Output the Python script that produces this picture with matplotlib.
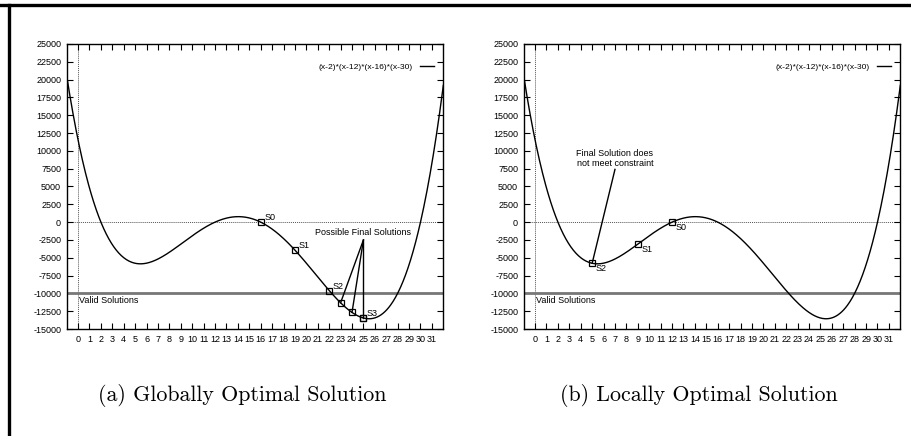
import numpy as np
import matplotlib
matplotlib.use("Agg")
import matplotlib.pyplot as plt
from matplotlib.lines import Line2D

# Function plotted in both panels (roots of the quartic, as named in the legend)
ROOTS = [2, 12, 16, 30]
LEGEND_LABEL = "(x-2)*(x-12)*(x-16)*(x-30)"
CONSTRAINT = -10000

# Panel (a): search steps and possible final solutions
A_STEP_X = [16, 19, 22, 25]
A_STEP_Y = [0, -3927, -9600, -13455]
A_STEP_LABELS = ["S0", "S1", "S2", "S3"]
A_FINAL_X = [23, 24, 25]
A_FINAL_Y = [-11319, -12672, -13455]
A_NOTE_XY = (25, -2500)
A_NOTE_TEXT = "Possible Final Solutions"

# Panel (b): search steps ending in a local optimum
B_STEP_X = [12, 9, 5]
B_STEP_Y = [0, -3087, -5775]
B_STEP_LABELS = ["S0", "S1", "S2"]
B_NOTE_XY = (7, 7400)
B_NOTE_TEXT = "Final Solution does\nnot meet constraint"

CAPTIONS = ["(a) Globally Optimal Solution", "(b) Locally Optimal Solution"]

X_TICKS = list(range(0, 32))
Y_TICKS = list(range(-15000, 25001, 2500))

SANS = ["Liberation Sans", "DejaVu Sans"]
plt.rcParams["font.family"] = SANS
plt.rcParams["axes.unicode_minus"] = False


def base_axes(fig, rect):
    ax = fig.add_axes(rect)
    xs = np.linspace(-1, 32, 600)
    ys = np.prod([xs - r for r in ROOTS], axis=0)
    ax.plot(xs, ys, color="black", linewidth=1.0, label=LEGEND_LABEL, zorder=3)
    ax.axhline(0, color="#555555", linestyle=(0, (1, 1)), linewidth=0.7, zorder=1)
    ax.axvline(0, color="#555555", linestyle=(0, (1, 1)), linewidth=0.7, zorder=1)
    ax.axhline(CONSTRAINT, color="#777777", linewidth=2.0, zorder=2)
    ax.text(0.1, CONSTRAINT - 350, "Valid Solutions", fontsize=6.5, va="top", ha="left")
    ax.set_xlim(-1, 32)
    ax.set_ylim(-15000, 25000)
    ax.set_xticks(X_TICKS)
    ax.set_yticks(Y_TICKS)
    ax.tick_params(direction="in", length=4, width=0.8, labelsize=6.5,
                   top=True, right=True, pad=4)
    for s in ax.spines.values():
        s.set_linewidth(1.0)
    ax.legend(loc="center right", bbox_to_anchor=(0.975, 0.92), frameon=False,
              markerfirst=False, fontsize=6.1, handlelength=1.6, handletextpad=0.9,
              borderpad=0, borderaxespad=0)
    return ax


fig = plt.figure(figsize=(9.12, 4.36), dpi=100)

# panel (a)
ax1 = base_axes(fig, [0.0731, 0.2454, 0.413, 0.6537])
for x, y in zip(A_FINAL_X, A_FINAL_Y):
    ax1.plot([A_NOTE_XY[0], x], [A_NOTE_XY[1], y], color="black", linewidth=1.0, zorder=4)
ax1.plot(A_STEP_X, A_STEP_Y, linestyle="none", marker="s", markersize=4.5,
         markerfacecolor="none", markeredgecolor="black", markeredgewidth=0.9, zorder=5)
ax1.plot(A_FINAL_X, A_FINAL_Y, linestyle="none", marker="s", markersize=4.5,
         markerfacecolor="none", markeredgecolor="black", markeredgewidth=0.9, zorder=5)
for x, y, lab in zip(A_STEP_X, A_STEP_Y, A_STEP_LABELS):
    ax1.annotate(lab, (x, y), xytext=(2.5, 3), textcoords="offset points",
                 fontsize=6.5, ha="left", va="center")
ax1.text(A_NOTE_XY[0], A_NOTE_XY[1] + 1000, A_NOTE_TEXT, fontsize=6.5,
         ha="center", va="center")

# panel (b)
ax2 = base_axes(fig, [0.5742, 0.2454, 0.413, 0.6537])
ax2.plot([B_NOTE_XY[0], B_STEP_X[-1]], [B_NOTE_XY[1], B_STEP_Y[-1]],
         color="black", linewidth=1.0, zorder=4)
ax2.plot(B_STEP_X, B_STEP_Y, linestyle="none", marker="s", markersize=4.5,
         markerfacecolor="none", markeredgecolor="black", markeredgewidth=0.9, zorder=5)
for x, y, lab in zip(B_STEP_X, B_STEP_Y, B_STEP_LABELS):
    ax2.annotate(lab, (x, y), xytext=(2.5, -4), textcoords="offset points",
                 fontsize=6.5, ha="left", va="center")
ax2.text(B_NOTE_XY[0], B_NOTE_XY[1] + 1500, B_NOTE_TEXT, fontsize=6.5,
         ha="center", va="center", linespacing=1.1)

# captions
fig.text(0.266, 0.094, CAPTIONS[0], fontsize=15.8, family="cmr10", ha="center", va="center")
fig.text(0.766, 0.094, CAPTIONS[1], fontsize=15.8, family="cmr10", ha="center", va="center")

# page frame (top and left edges)
fig.add_artist(Line2D([0, 1], [1 - 5.5 / 436, 1 - 5.5 / 436], color="black", linewidth=2.4,
                      transform=fig.transFigure))
fig.add_artist(Line2D([9.5 / 912, 9.5 / 912], [0, 1 - 5.5 / 436], color="black", linewidth=2.4,
                      transform=fig.transFigure))

fig.savefig("out.png", dpi=100)
